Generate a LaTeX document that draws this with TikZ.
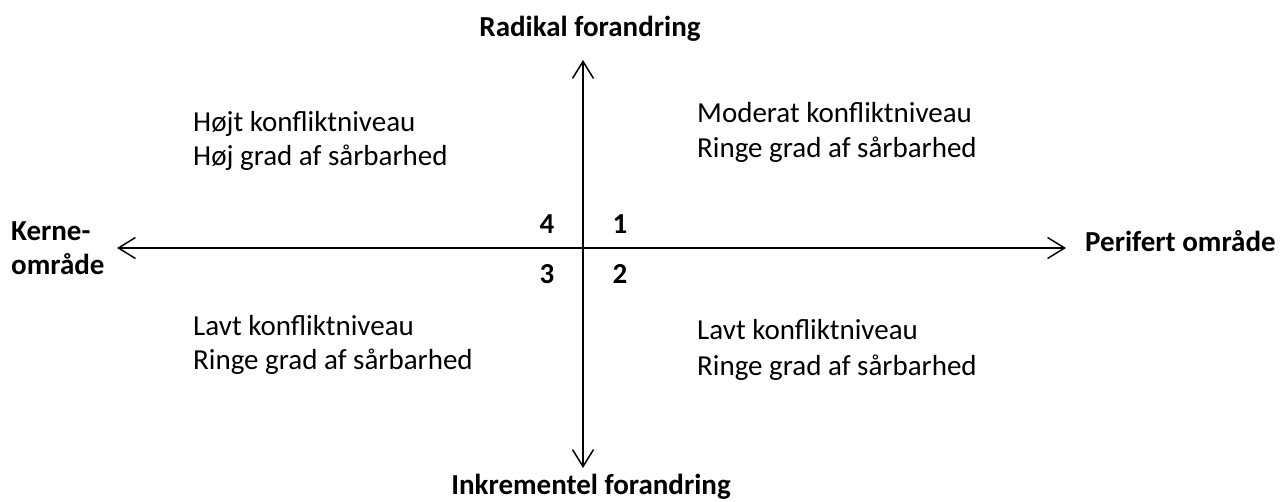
\documentclass[tikz,border=0pt]{standalone}
\usepackage{fontspec}
\setmainfont{Carlito}
\usetikzlibrary{arrows.meta}
\begin{document}
\begin{tikzpicture}[x=1pt,y=-1pt,
  tip/.tip={Straight Barb[length=17pt,width=21pt,line width=1.5pt]},
  axis/.style={line width=1.6pt,tip-tip},
  lbl/.style={font=\fontsize{29}{34}\selectfont\bfseries,inner sep=0pt,anchor=base},
  txt/.style={font=\fontsize{29}{34}\selectfont,inner sep=0pt,anchor=base west},
  num/.style={font=\fontsize{29}{34}\selectfont\bfseries,inner sep=0pt}]
\useasboundingbox (0,0) rectangle (1282,502);
\coordinate (top) at (583,60);
\coordinate (bot) at (583,468);
\coordinate (left) at (117,248);
\coordinate (right) at (1066,248);
\draw[axis] (top) -- (bot);
\draw[axis] (left) -- (right);
\node[lbl] (rad) at (590,37) {Radikal forandring};
\node[lbl] (ink) at (591,494) {Inkrementel forandring};
\node[lbl,anchor=base west] (kerne1) at (11,241) {Kerne-};
\node[lbl,anchor=base west] (kerne2) at (11,275) {område};
\node[lbl,anchor=base west] (peri) at (1085,252) {Perifert område};
\node[txt] (q4a) at (193,132) {Højt konfliktniveau};
\node[txt] (q4b) at (193,166) {Høj grad af sårbarhed};
\node[txt] (q1a) at (697,123) {Moderat konfliktniveau};
\node[txt] (q1b) at (697,158) {Ringe grad af sårbarhed};
\node[txt] (q3a) at (193,336) {Lavt konfliktniveau};
\node[txt] (q3b) at (193,370) {Ringe grad af sårbarhed};
\node[txt] (q2a) at (697,340) {Lavt konfliktniveau};
\node[txt] (q2b) at (697,375) {Ringe grad af sårbarhed};
\node[num] (n4) at (547,224) {4};
\node[num] (n1) at (620,224) {1};
\node[num] (n3) at (547,274) {3};
\node[num] (n2) at (620,274) {2};
\end{tikzpicture}
\end{document}
